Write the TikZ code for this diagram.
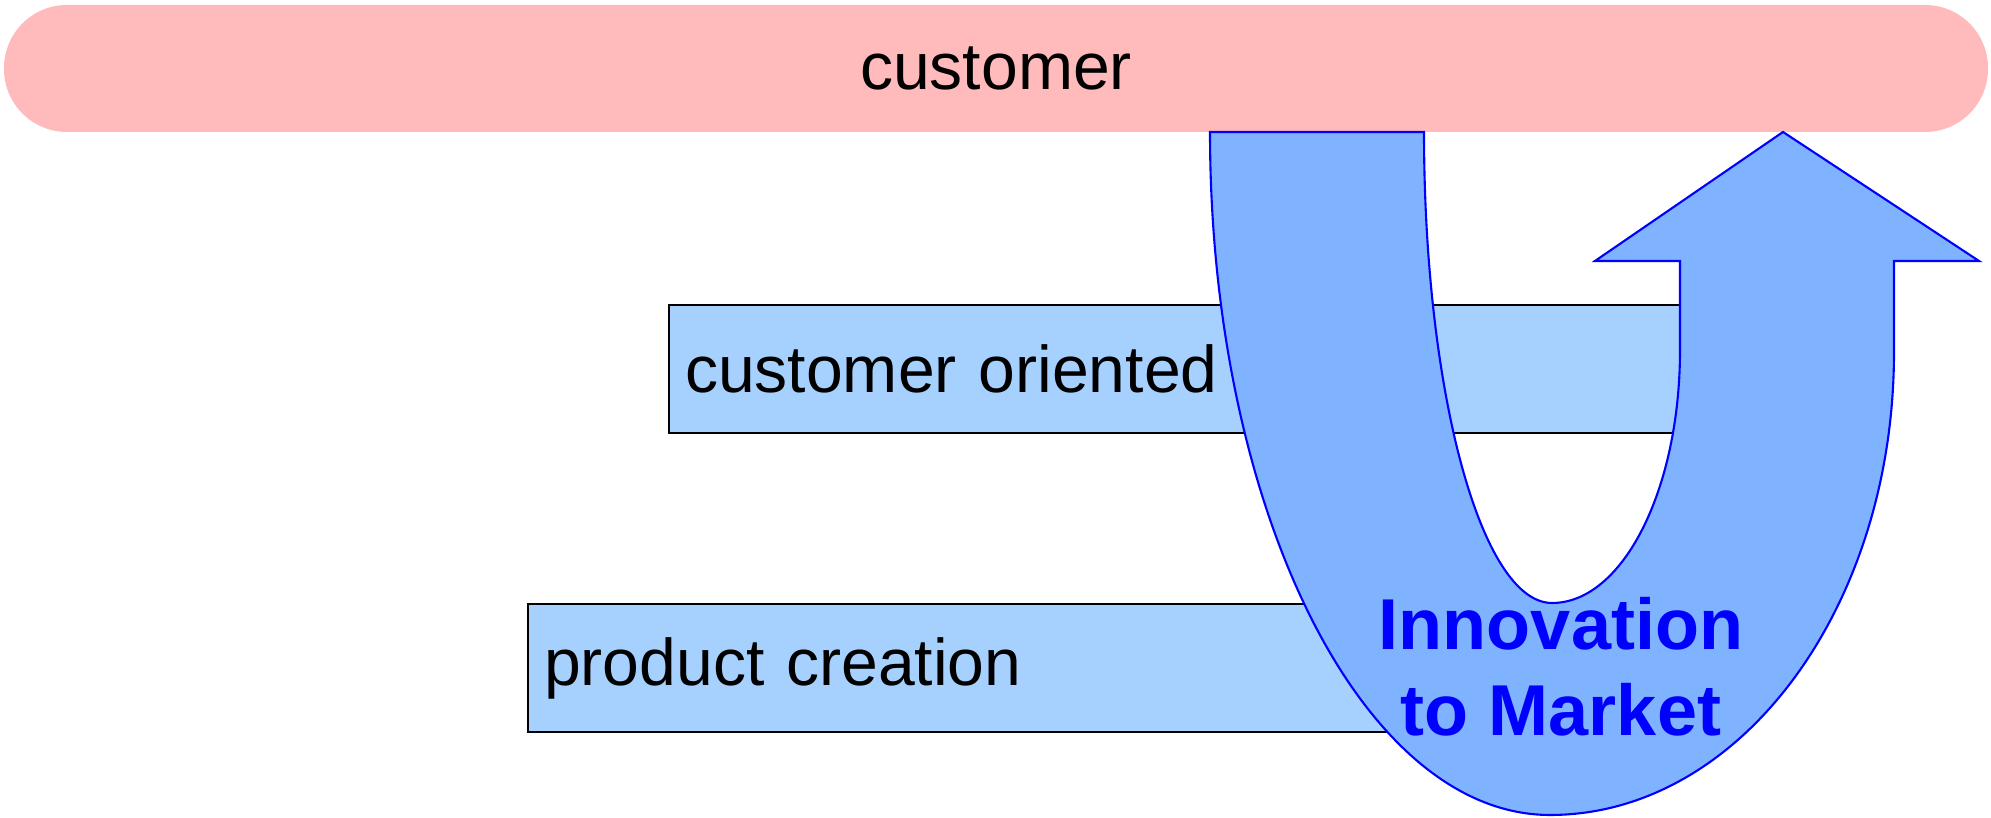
\documentclass[tikz,border=0pt]{standalone}
\usepackage{fontspec}
\setmainfont{Liberation Sans}
\usepackage{tikz}
\definecolor{rose}{RGB}{255,187,187}
\definecolor{bleuclair}{RGB}{166,209,255}
\definecolor{bleuU}{RGB}{128,179,255}

\begin{document}
\begin{tikzpicture}[
    boite/.style={draw=black, line width=0.6pt, fill=bleuclair, anchor=north west,
      inner xsep=0.16cm, inner ysep=0pt, minimum height=1.28cm, align=left,
      font=\fontsize{18.8}{22}\selectfont},
  ]
        \useasboundingbox (0,0) rectangle (19.91,8.18);

        % Barre client
        \node[fill=rose, rounded corners=0.63cm, minimum width=19.84cm, minimum height=1.27cm,
          inner sep=0pt, font=\fontsize{18.8}{22}\selectfont] (client) at (9.96,7.495) {customer};

        % Niveaux
        \node[boite, text width=10.5cm] (oriente) at (6.68,5.14) {customer oriented};
        \node[boite, text width=9.4cm] (creation) at (5.27,2.15) {product creation};

        % Fleche en U
        \draw[blue, line width=0.6pt, fill=bleuU]
          (12.10,6.86) -- (14.24,6.86)
          arc[start angle=180, end angle=270, x radius=1.28, y radius=4.71]
          arc[start angle=270, end angle=360, x radius=1.28, y radius=2.53]
          -- (16.80,5.57) -- (15.95,5.57) -- (17.83,6.86) -- (19.79,5.57) -- (18.94,5.57) -- (18.94,4.66)
          arc[start angle=0, end angle=-90, x radius=3.44, y radius=4.63]
          arc[start angle=-90, end angle=-180, x radius=3.40, y radius=6.83]
          -- cycle;

        % Label
        \node[text=blue, inner sep=0pt, align=center,
          font=\bfseries\fontsize{20.5}{24.5}\selectfont] (innovation) at (15.61,1.51) {Innovation\\to Market};

    \end{tikzpicture}
\end{document}
